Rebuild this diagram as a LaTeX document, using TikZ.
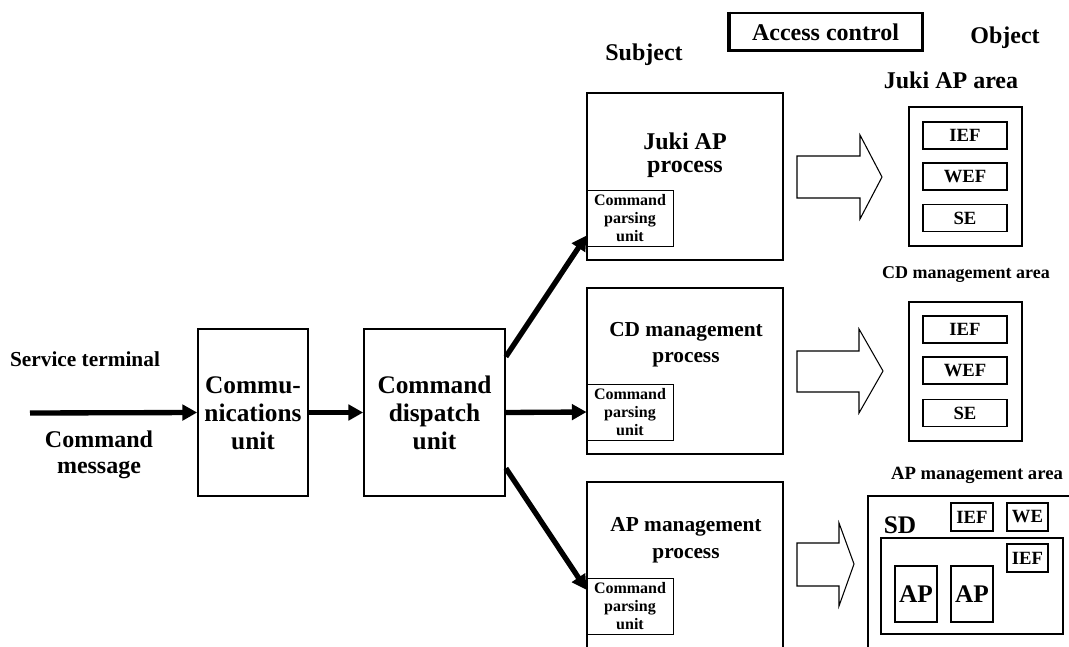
\documentclass[tikz,border=0pt]{standalone}
\usepackage{fontspec}
\setmainfont{Liberation Serif}
\usetikzlibrary{arrows.meta,calc}

\tikzset{every picture/.style={line width=0.75pt}}
\tikzset{
  unitbox/.style={draw, line width=1.3pt, inner sep=0pt},
  parsebox/.style={draw, line width=0.7pt, inner sep=0pt, align=center,
    minimum width=64.5pt, minimum height=42pt,
    font=\bfseries\fontsize{12}{13.5}\selectfont},
  fieldbox/.style={draw, line width=1.3pt, inner sep=0pt,
    minimum width=63pt, minimum height=20.25pt,
    font=\bfseries\fontsize{14}{14}\selectfont},
  flow/.style={line width=4pt, -{Triangle[length=11pt,width=11.5pt]}},
  blockarrow/.style={line width=0.8pt},
}

\begin{document}
\begin{tikzpicture}[x=0.75pt,y=0.75pt,yscale=-1,xscale=1]
\useasboundingbox (0,0) rectangle (1069,646);
\clip (0,0) rectangle (1069,646);

% Headings
\node [draw, line width=1.6pt, inner sep=0pt, minimum width=145.5pt, minimum height=29pt,
  font=\bfseries\fontsize{18}{18}\selectfont] (acc) at (825.5,32) {Access control};
\draw [line width=2pt] ($(acc.north west)+(2.5,0)$) |- ($(acc.south east)+(0,-2.5)$);
\node [font=\bfseries\fontsize{18}{18}\selectfont] (subj) at (644,55) {Subject};
\node [font=\bfseries\fontsize{18}{18}\selectfont] (obj) at (1005,38) {Object};

% Left side
\node [font=\bfseries\fontsize{16}{16}\selectfont] (svc) at (85,359) {Service terminal};
\node [align=center, font=\bfseries\fontsize{18}{19.5}\selectfont] (msg) at (99,455) {Command\\message};
\coordinate (term) at (30,413);
\node [unitbox, minimum width=82.5pt, minimum height=125.25pt] (comm) at (253,412.5) {};
\node [align=center, font=\bfseries\fontsize{19}{21}\selectfont] (commtxt) at (253,413) {Commu-\\nications\\unit};
\node [unitbox, minimum width=105.75pt, minimum height=125.25pt] (disp) at (434.5,412.5) {};
\node [align=center, font=\bfseries\fontsize{19}{21}\selectfont] (disptxt) at (434.5,413) {Command\\dispatch\\unit};

% Subject processes
\node [unitbox, minimum width=147pt, minimum height=125.25pt] (juki) at (685,176.5) {};
\node [align=center, font=\bfseries\fontsize{18}{17}\selectfont] (jukitxt) at (685,155) {Juki AP\\process};
\node [parsebox] (cp1) at (630,218) {Command\\parsing\\unit};

\node [unitbox, minimum width=147pt, minimum height=124.5pt] (cdm) at (685,371) {};
\node [align=center, font=\bfseries\fontsize{16}{19.5}\selectfont] (cdmtxt) at (686,345) {CD management\\process};
\node [parsebox] (cp2) at (630,412) {Command\\parsing\\unit};

\node [unitbox, minimum width=147pt, minimum height=126pt] (apm) at (685,566) {};
\node [align=center, font=\bfseries\fontsize{16}{20}\selectfont] (apmtxt) at (686,540) {AP management\\process};
\node [parsebox] (cp3) at (630,606.5) {Command\\parsing\\unit};

% Connectors
\draw [flow] (term) -- (comm.west);
\draw [flow] (comm.east) -- (disp.west);
\draw [flow] (disp.38) -- (cp1.-158);
\draw [flow] (disp.east) -- (cp2.west);
\draw [flow] (disp.-38) -- (cp3.159);

%Shape: Right Arrow
\draw [blockarrow] (797,156) -- (860,156) -- (860,135) -- (882,177) -- (860,219) -- (860,198) -- (797,198) -- cycle ;
%Shape: Right Arrow
\draw [blockarrow] (797,351) -- (859,351) -- (859,329) -- (883,371) -- (859,413) -- (859,392) -- (797,392) -- cycle ;
%Shape: Right Arrow
\draw [blockarrow] (797,543) -- (839,543) -- (839,523) -- (854,564) -- (839,606) -- (839,586) -- (797,586) -- cycle ;

% Objects
\node [font=\bfseries\fontsize{18}{18}\selectfont] (jukiarea) at (951,80) {Juki AP area};
\node [unitbox, minimum width=84.75pt, minimum height=104.25pt] (area1) at (965.5,176.5) {};
\node [fieldbox] (ief1) at (965,135.5) {IEF};
\node [fieldbox] (wef1) at (965,176.5) {WEF};
\node [fieldbox] (se1) at (965,218) {SE};

\node [font=\bfseries\fontsize{13.5}{13.5}\selectfont] (cdarea) at (966,275) {CD management area};
\node [unitbox, minimum width=84.75pt, minimum height=104.25pt] (area2) at (965.5,371.5) {};
\node [fieldbox] (ief2) at (965,329.5) {IEF};
\node [fieldbox] (wef2) at (965,370.5) {WEF};
\node [fieldbox] (se2) at (965,413) {SE};

\node [font=\bfseries\fontsize{14}{14}\selectfont] (aparea) at (977,475) {AP management area};
\node [unitbox, minimum width=159pt, minimum height=123pt] (sd) at (974,578) {};
\node [font=\bfseries\fontsize{19}{19}\selectfont] (sdtxt) at (900,525) {SD};
\node [fieldbox, minimum width=31.5pt, minimum height=21pt] (ief3) at (972,517) {IEF};
\node [fieldbox, minimum width=30.75pt, minimum height=21pt] (we3) at (1027.5,517) {WE};
\node [unitbox, minimum width=136.5pt, minimum height=72pt] (dom) at (972,586) {};
\node [fieldbox, minimum width=30.75pt, minimum height=21pt] (ief4) at (1027.5,558) {IEF};
\node [fieldbox, minimum width=31.5pt, minimum height=42pt, font=\bfseries\fontsize{19}{19}\selectfont] (ap1) at (916,594) {AP};
\node [fieldbox, minimum width=31.5pt, minimum height=42pt, font=\bfseries\fontsize{19}{19}\selectfont] (ap2) at (972,594) {AP};

\end{tikzpicture}
\end{document}
